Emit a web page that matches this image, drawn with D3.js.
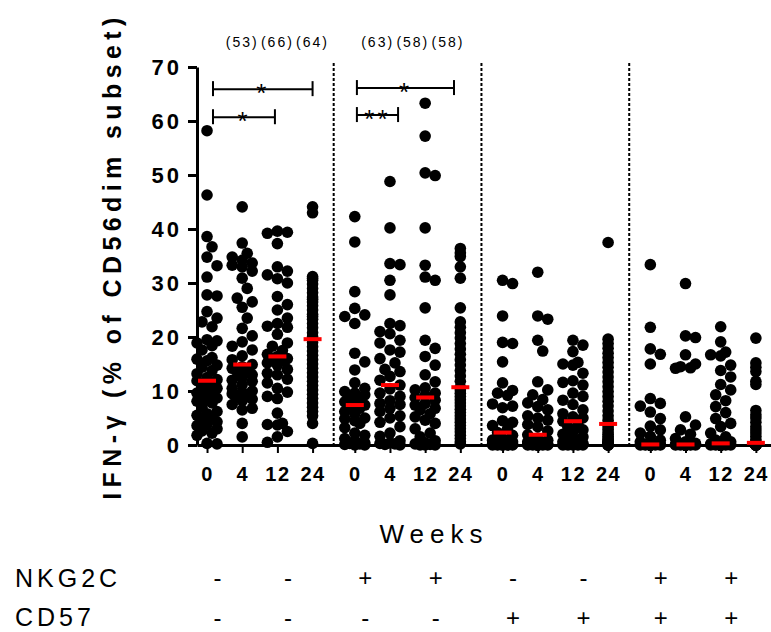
<!DOCTYPE html>
<html>
<head>
<meta charset="utf-8">
<script src="https://cdn.jsdelivr.net/npm/d3@7/dist/d3.min.js"></script>
<style>
  html, body { margin: 0; padding: 0; background: #fff; }
  svg { display: block; }
  text { font-family: "Liberation Sans", Arial, Helvetica, sans-serif; fill: #000; }
</style>
</head>
<body>
<svg id="chart" width="771" height="632"></svg>
<script>
// ---- data: IFN-gamma (% of CD56dim subset) per donor, by subset and week ----
const weeks = ["0", "4", "12", "24"];

// NKG2C- CD57-
const negNegW0  = [58.2, 46.3, 38.6, 36.7, 34.8, 33.2, 31.1, 27.8, 27.6, 24.7, 23.5, 22.8, 21.9, 19.5, 19.3, 18.9, 18.4, 17.6, 16.2, 15.9, 15.6, 14.8, 14.4, 13.8, 13.2, 12.5, 12.1, 11.9, 11.6, 11.0, 10.5, 10.1, 9.6, 9.3, 9.0, 8.7, 8.4, 8.1, 7.8, 7.0, 6.2, 5.8, 5.5, 5.2, 4.8, 4.3, 3.8, 3.6, 3.0, 2.6, 2.2, 1.8, 0.3, 0.2];
const negNegW4  = [44.1, 37.4, 35.5, 34.8, 34.2, 33.7, 33.3, 33.0, 32.2, 30.9, 29.0, 27.2, 26.5, 25.5, 23.5, 21.6, 20.2, 19.1, 18.3, 17.6, 16.5, 15.8, 14.9, 14.5, 14.2, 13.8, 13.5, 13.0, 12.5, 12.0, 11.8, 11.2, 10.5, 10.0, 9.8, 9.5, 9.0, 8.8, 8.5, 8.2, 7.5, 6.8, 6.5, 4.0, 1.5];
const negNegW12 = [39.6, 39.4, 39.2, 37.3, 33.0, 32.2, 31.5, 30.8, 30.0, 27.5, 26.0, 25.0, 23.5, 22.5, 22.0, 21.8, 20.5, 18.9, 18.3, 17.5, 16.8, 16.4, 16.0, 15.9, 15.6, 15.2, 14.8, 14.0, 13.3, 13.0, 12.2, 11.5, 10.5, 9.8, 9.0, 8.6, 5.9, 4.0, 3.8, 3.7, 2.5, 1.5, 0.5];
const negNegW24 = [44.1, 43.0, 31.2, 30.9, 30.5, 29.8, 29.0, 28.2, 27.4, 27.0, 26.5, 25.8, 25.0, 24.2, 23.8, 23.3, 22.5, 21.7, 20.8, 20.1, 19.6, 19.0, 18.2, 17.4, 16.6, 15.8, 15.0, 14.2, 13.4, 12.6, 11.8, 11.0, 10.2, 9.4, 8.6, 7.8, 7.0, 6.2, 5.4, 4.0, 0.3];

// NKG2C+ CD57-
const posNegW0  = [42.3, 37.6, 28.4, 25.3, 24.1, 23.8, 22.5, 17.0, 15.4, 13.9, 11.5, 10.5, 9.9, 9.6, 9.3, 8.6, 8.3, 8.0, 7.7, 7.4, 7.1, 6.8, 6.2, 5.8, 5.0, 4.9, 4.5, 4.0, 3.2, 2.2, 1.8, 1.2, 0.8, 0.4, 0.3, 0.2, 0.1, 0.0, 0.0];
const posNegW4  = [48.8, 40.2, 33.6, 33.4, 30.5, 27.8, 22.5, 22.1, 21.0, 20.6, 19.4, 18.9, 17.6, 17.2, 16.0, 15.2, 14.0, 13.6, 12.7, 12.0, 11.1, 10.4, 9.6, 9.0, 8.2, 7.7, 7.5, 6.8, 6.2, 5.4, 5.0, 4.2, 3.4, 2.2, 1.6, 0.8, 0.4, 0.3, 0.2, 0.1, 0.0];
const posNegW12 = [63.3, 57.2, 50.4, 49.9, 40.2, 33.3, 31.1, 30.5, 25.4, 19.4, 17.9, 16.4, 14.8, 13.0, 11.7, 10.6, 10.2, 9.6, 9.2, 8.8, 8.3, 7.7, 7.4, 6.8, 6.5, 5.8, 5.2, 4.6, 4.0, 3.0, 2.2, 1.5, 0.8, 0.4, 0.2, 0.1, 0.0, 0.0, 0.0];
const posNegW24 = [36.4, 35.6, 34.9, 33.0, 30.9, 25.4, 22.8, 21.8, 20.8, 19.8, 18.8, 17.8, 16.8, 15.8, 14.8, 13.8, 12.8, 11.8, 10.7, 10.2, 9.6, 9.0, 8.4, 7.8, 7.2, 6.6, 6.0, 5.4, 4.8, 4.2, 3.6, 3.0, 2.4, 1.8, 1.2, 0.6, 0.2];

// NKG2C- CD57+
const negPosW0  = [30.5, 29.9, 23.9, 19.0, 18.8, 15.4, 11.5, 10.1, 9.6, 9.2, 7.6, 7.2, 6.9, 4.5, 4.2, 3.6, 3.0, 2.3, 1.8, 1.2, 0.9, 0.6, 0.4, 0.3, 0.2, 0.2, 0.1, 0.1, 0.05, 0.0, 0.0, 0.0, 0.0, 0.0, 0.0];
const negPosW4  = [32.0, 23.9, 23.3, 19.4, 17.4, 11.7, 10.2, 9.3, 8.4, 7.8, 7.1, 6.5, 5.4, 5.0, 4.6, 3.8, 3.4, 2.6, 1.9, 1.3, 0.9, 0.6, 0.4, 0.3, 0.2, 0.1, 0.1, 0.0, 0.0, 0.0, 0.0, 0.0, 0.0, 0.0, 0.0, 0.0, 0.0];
const negPosW12 = [19.4, 18.5, 17.3, 15.3, 15.0, 14.8, 13.3, 11.9, 11.6, 11.1, 9.6, 9.0, 8.3, 7.5, 6.5, 5.8, 5.2, 5.0, 4.4, 3.8, 3.3, 2.8, 2.4, 2.0, 1.5, 1.2, 0.9, 0.6, 0.4, 0.3, 0.2, 0.1, 0.0, 0.0, 0.0, 0.0, 0.0];
const negPosW24 = [37.5, 19.6, 18.8, 17.9, 17.0, 16.2, 15.3, 14.4, 13.5, 12.6, 11.7, 10.8, 9.9, 9.0, 8.1, 7.2, 6.3, 5.4, 4.6, 3.9, 3.4, 2.9, 2.4, 2.0, 1.6, 1.3, 1.0, 0.8, 0.6, 0.4, 0.3, 0.2, 0.1, 0.1, 0.0, 0.0, 0.0, 0.0, 0.0];

// NKG2C+ CD57+
const posPosW0  = [33.4, 21.8, 17.8, 16.8, 15.0, 8.6, 7.7, 7.2, 6.1, 4.9, 3.5, 2.8, 2.2, 1.6, 0.9, 0.6, 0.3, 0.2, 0.1, 0.1, 0.0, 0.0, 0.0, 0.0, 0.0, 0.0, 0.0, 0.0, 0.0, 0.0, 0.0, 0.0, 0.0, 0.0, 0.0];
const posPosW4  = [29.9, 20.2, 19.9, 16.7, 15.0, 14.5, 14.3, 14.2, 5.2, 3.7, 2.8, 2.0, 1.2, 0.6, 0.3, 0.2, 0.1, 0.1, 0.0, 0.0, 0.0, 0.0, 0.0, 0.0, 0.0, 0.0, 0.0, 0.0, 0.0, 0.0, 0.0, 0.0, 0.0, 0.0, 0.0];
const posPosW12 = [21.9, 19.1, 17.2, 16.7, 16.5, 14.8, 13.8, 12.6, 11.2, 10.2, 9.3, 8.2, 7.1, 6.0, 4.9, 4.0, 3.4, 2.2, 1.5, 0.9, 0.6, 0.3, 0.2, 0.1, 0.0, 0.0, 0.0, 0.0, 0.0, 0.0, 0.0, 0.0, 0.0, 0.0, 0.0, 0.0, 0.0, 0.0, 0.0, 0.0, 0.0, 0.0];
const posPosW24 = [19.8, 15.2, 14.4, 13.6, 11.8, 11.2, 6.4, 5.6, 5.0, 4.2, 3.4, 2.8, 2.2, 1.6, 1.0, 0.6, 0.4, 0.3, 0.2, 0.1, 0.1, 0.0, 0.0, 0.0, 0.0, 0.0, 0.0, 0.0, 0.0, 0.0, 0.0, 0.0, 0.0];

// median per subset (rows) and week (columns)
const medians = [
  [11.9, 14.9, 16.4, 19.6],
  [7.4, 11.1, 8.8, 10.7],
  [2.3, 1.9, 4.4, 3.9],
  [0.1, 0.1, 0.3, 0.4]
];

// n per week shown above the first two subsets (weeks 4, 12, 24)
const nLabelsNegNeg = ["(53)", "(66)", "(64)"];
const nLabelsPosNeg = ["(63)", "(58)", "(58)"];

// marker table under the axis
const nkg2cSigns = ["-", "-", "+", "+", "-", "-", "+", "+"];
const cd57Signs  = ["-", "-", "-", "-", "+", "+", "+", "+"];

// significance brackets: subset, start/end in week-slot units, height in % units
const brackets = [
  { subset: 0, from: 0.17, to: 3.0,  level: 65.9, label: "*" },
  { subset: 0, from: 0.17, to: 1.93, level: 60.7, label: "*" },
  { subset: 1, from: 0.06, to: 2.82, level: 66.1, label: "*" },
  { subset: 1, from: 0.06, to: 1.23, level: 61.1, label: "**" }
];

const series = [
  [negNegW0, negNegW4, negNegW12, negNegW24],
  [posNegW0, posNegW4, posNegW12, posNegW24],
  [negPosW0, negPosW4, negPosW12, negPosW24],
  [posPosW0, posPosW4, posPosW12, posPosW24]
];

// ---- layout ----
const svg = d3.select("#chart");
const GROUP_STEP = 4.2;            // slot distance between subsets
const slot = (g, w) => g * GROUP_STEP + w;

const x = d3.scaleLinear().domain([-0.285, 16.03]).range([197, 771]);
const y = d3.scaleLinear().domain([0, 70]).range([445, 67]);
const R = 5.8;
const FONT = "'Liberation Sans', Arial, sans-serif";

// y axis
const yAxis = svg.append("g")
  .attr("transform", `translate(${x(-0.285)},0)`)
  .call(d3.axisLeft(y).tickValues(d3.range(0, 71, 10)).tickSize(9).tickSizeOuter(0).tickPadding(6));
yAxis.select(".domain").attr("stroke-width", 3);
yAxis.selectAll(".tick line").attr("stroke-width", 3);
yAxis.selectAll(".tick text")
  .attr("font-size", 22).attr("font-weight", "bold").attr("font-family", FONT)
  .style("letter-spacing", "3px");

// x axis with a tick per week slot
const slots = [];
series.forEach((grp, g) => grp.forEach((_, w) => slots.push({ g, w, s: slot(g, w) })));
const xAxis = svg.append("g")
  .attr("transform", `translate(0,${y(0)})`)
  .call(d3.axisBottom(x).tickValues(slots.map(d => d.s))
    .tickFormat((d, i) => weeks[slots[i].w]).tickSize(8).tickSizeOuter(0).tickPadding(14));
xAxis.select(".domain").attr("stroke-width", 3);
xAxis.selectAll(".tick line").attr("stroke-width", 2);
xAxis.selectAll(".tick text")
  .attr("font-size", 20).attr("font-weight", "bold").attr("font-family", FONT)
  .style("letter-spacing", "1.5px");

// dotted separators between subsets
[1, 2, 3].forEach(g => {
  const sx = x(slot(g, 0) - (GROUP_STEP - 3) / 2);
  svg.append("line")
    .attr("x1", sx).attr("x2", sx).attr("y1", 63).attr("y2", y(0))
    .attr("stroke", "#000").attr("stroke-width", 2).attr("stroke-dasharray", "3,2");
});

// beeswarm placement with a bounded width
function swarm(values, cx, maxHalf) {
  const step = 5;
  const cands = [0];
  for (let k = step; k <= maxHalf + 0.01; k += step) cands.push(k, -k);
  const placed = [];
  values.slice().sort((a, b) => b - a).forEach(v => {
    const cy = y(v);
    let best = null, bestD = -1;
    for (const o of cands) {
      let md = Infinity;
      for (const p of placed) md = Math.min(md, Math.hypot(p.x - (cx + o), p.y - cy));
      if (md >= 2 * R * 0.97) { best = o; bestD = md; break; }
      if (md > bestD) { bestD = md; best = o; }
    }
    placed.push({ x: cx + best, y: cy, v });
  });
  return placed;
}

const dots = svg.append("g");
series.forEach((grp, g) => grp.forEach((vals, w) => {
  const cx = x(slot(g, w));
  const pts = swarm(vals, cx, w === 3 ? 0 : 10);
  dots.selectAll(null).data(pts).join("circle")
    .attr("cx", d => d.x).attr("cy", d => d.y).attr("r", R).attr("fill", "#000");
}));

// median bars
const medG = svg.append("g");
medians.forEach((row, g) => row.forEach((m, w) => {
  medG.append("rect")
    .attr("x", x(slot(g, w)) - 9).attr("y", y(m) - 2)
    .attr("width", 18).attr("height", 4).attr("fill", "#ff0000");
}));

// sample-size labels
[[0, nLabelsNegNeg, 1], [1, nLabelsPosNeg, 0.65]].forEach(([g, labels, start]) => {
  labels.forEach((t, i) => {
    svg.append("text")
      .attr("x", x(slot(g, start + i))).attr("y", 47)
      .attr("text-anchor", "middle").attr("font-size", 14)
      .style("letter-spacing", "2px").text(t);
  });
});

// significance brackets
brackets.forEach(b => {
  const x1 = x(slot(b.subset, b.from)), x2 = x(slot(b.subset, b.to)), yy = y(b.level);
  const gb = svg.append("g").attr("stroke", "#000").attr("stroke-width", 2);
  gb.append("line").attr("x1", x1).attr("x2", x2).attr("y1", yy).attr("y2", yy);
  gb.append("line").attr("x1", x1).attr("x2", x1).attr("y1", yy - 8).attr("y2", yy + 7);
  gb.append("line").attr("x1", x2).attr("x2", x2).attr("y1", yy - 8).attr("y2", yy + 7);
  svg.append("text").attr("x", (x1 + x2) / 2).attr("y", yy + 13)
    .attr("text-anchor", "middle").attr("font-size", 26)
    .style("letter-spacing", "3px").text(b.label);
});

// y axis title
svg.append("text")
  .attr("transform", `translate(121,256) rotate(-90)`)
  .attr("text-anchor", "middle").attr("font-size", 25).attr("font-weight", "bold")
  .style("letter-spacing", "5.4px")
  .text("IFN-\u03b3 (% of CD56dim subset)");

// x axis title
svg.append("text")
  .attr("x", 434).attr("y", 543).attr("text-anchor", "middle")
  .attr("font-size", 26).style("letter-spacing", "6px").text("Weeks");

// marker table
svg.append("text").attr("x", 15).attr("y", 587).attr("font-size", 25)
  .style("letter-spacing", "4px").text("NKG2C");
svg.append("text").attr("x", 15).attr("y", 626).attr("font-size", 25)
  .style("letter-spacing", "4px").text("CD57");
const signSlots = [0.3, 2.3];
nkg2cSigns.forEach((s, i) => {
  const sx = x(slot(Math.floor(i / 2), signSlots[i % 2]));
  svg.append("text").attr("x", sx).attr("y", 586).attr("text-anchor", "middle")
    .attr("font-size", 24).text(s);
  svg.append("text").attr("x", sx).attr("y", 626).attr("text-anchor", "middle")
    .attr("font-size", 24).text(cd57Signs[i]);
});
</script>
</body>
</html>
